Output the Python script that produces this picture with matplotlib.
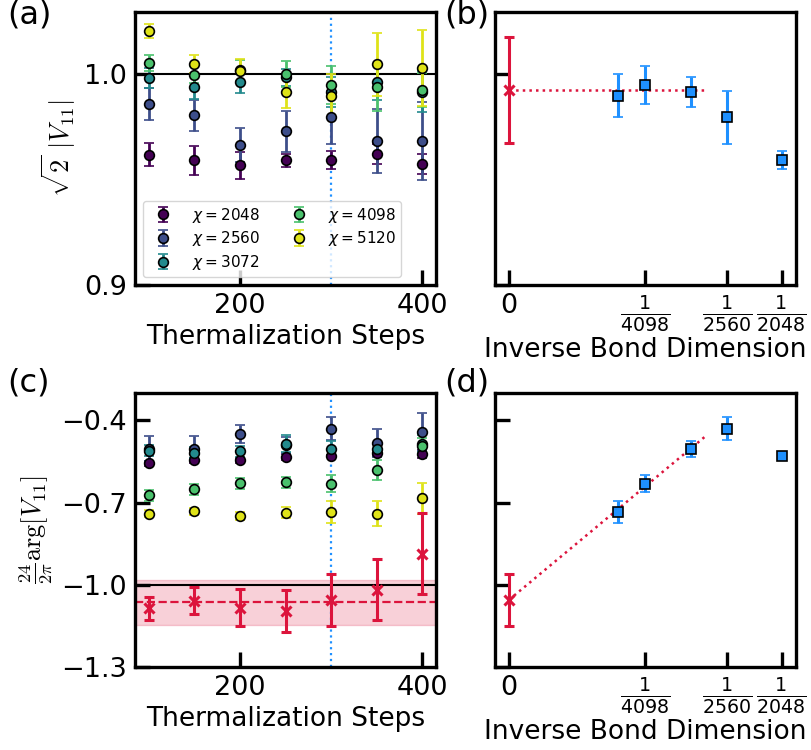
import numpy as np
import matplotlib
matplotlib.use("Agg")
import matplotlib.pyplot as plt

# ---------------- data ----------------
steps = [100, 150, 200, 250, 300, 350, 400]
chis = [2048, 2560, 3072, 4098, 5120]

abs_2048 = [0.9618, 0.9591, 0.9567, 0.9591, 0.9594, 0.9622, 0.9573]
abs_2560 = [0.9858, 0.9804, 0.9664, 0.9728, 0.9795, 0.9682, 0.9684]
abs_3072 = [0.9980, 0.9940, 0.9962, 0.9985, 0.9915, 0.9961, 0.9916]
abs_4098 = [1.0051, 0.9997, 1.0018, 1.0000, 0.9948, 0.9937, 0.9925]
abs_5120 = [1.0204, 1.0047, 1.0014, 0.9913, 0.9897, 1.0046, 1.0027]
abs_err_2048 = [0.0055, 0.0069, 0.0063, 0.0030, 0.0043, 0.0047, 0.0046]
abs_err_2560 = [0.0075, 0.0075, 0.0081, 0.0096, 0.0126, 0.0150, 0.0185]
abs_err_3072 = [0.0047, 0.0057, 0.0052, 0.0040, 0.0073, 0.0085, 0.0096]
abs_err_4098 = [0.0038, 0.0040, 0.0050, 0.0062, 0.0090, 0.0110, 0.0080]
abs_err_5120 = [0.0034, 0.0043, 0.0055, 0.0074, 0.0103, 0.0148, 0.0180]

arg_2048 = [-0.557, -0.546, -0.546, -0.534, -0.530, -0.518, -0.524]
arg_2560 = [-0.503, -0.503, -0.451, -0.490, -0.430, -0.481, -0.441]
arg_3072 = [-0.510, -0.518, -0.512, -0.485, -0.503, -0.503, -0.485]
arg_4098 = [-0.673, -0.651, -0.630, -0.625, -0.631, -0.581, -0.494]
arg_5120 = [-0.740, -0.732, -0.749, -0.737, -0.733, -0.740, -0.685]
arg_err_2048 = [0.010, 0.010, 0.010, 0.010, 0.005, 0.012, 0.015]
arg_err_2560 = [0.046, 0.046, 0.033, 0.030, 0.043, 0.051, 0.069]
arg_err_3072 = [0.020, 0.020, 0.020, 0.030, 0.029, 0.020, 0.030]
arg_err_4098 = [0.020, 0.020, 0.020, 0.020, 0.032, 0.038, 0.030]
arg_err_5120 = [0.012, 0.012, 0.015, 0.020, 0.040, 0.046, 0.058]

arg_extrap = [-1.086, -1.058, -1.083, -1.097, -1.055, -1.018, -0.886]
arg_extrap_err = [0.043, 0.050, 0.066, 0.077, 0.094, 0.111, 0.148]
arg_extrap_mean = -1.063
arg_extrap_band = 0.082

abs_extrap = 0.9924
abs_extrap_err = 0.025
arg_fit_slope = 1697.0
fit_x_end = 3.5e-4
chosen_step = 300

abs_vals = [abs_2048, abs_2560, abs_3072, abs_4098, abs_5120]
abs_errs = [abs_err_2048, abs_err_2560, abs_err_3072, abs_err_4098, abs_err_5120]
arg_vals = [arg_2048, arg_2560, arg_3072, arg_4098, arg_5120]
arg_errs = [arg_err_2048, arg_err_2560, arg_err_3072, arg_err_4098, arg_err_5120]

# ---------------- style ----------------
plt.rcParams['font.family'] = ['DejaVu Sans']
TICK_FS = 19.5
LABEL_FS = 19
SPW = 2.4
colors = [plt.cm.viridis(v) for v in np.linspace(0, 0.95, 5)]
RED = '#DC143C'
BLUE = '#1E90FF'

W, H = 811, 750
fig = plt.figure(figsize=(W / 100, H / 100), dpi=100)

def box(l, r, t, b):
    return [l / W, 1 - b / H, (r - l) / W, (b - t) / H]

axA = fig.add_axes(box(135, 436, 12, 285))
axB = fig.add_axes(box(495, 796, 12, 285))
axC = fig.add_axes(box(135, 436, 393, 667))
axD = fig.add_axes(box(495, 796, 393, 667))

for ax in (axA, axB, axC, axD):
    for s in ax.spines.values():
        s.set_linewidth(SPW)
    ax.tick_params(direction='in', length=11, width=SPW, labelsize=TICK_FS,
                   pad=6, top=False, right=False)

ekw = dict(capsize=3.4, elinewidth=2.0, capthick=2.2, markeredgecolor='k',
           markeredgewidth=1.2, ms=7.0, ls='none')
skw = dict(capsize=3.4, elinewidth=2.2, capthick=2.2, markeredgecolor='k',
           markeredgewidth=1.2, ms=6.8, ls='none')
xkw = dict(capsize=3.4, elinewidth=2.2, capthick=2.2, ms=6.5, mew=2.2, ls='none')

idx = steps.index(chosen_step)

# ---- (a) ----
axA.axhline(1.0, color='k', lw=1.5, zorder=1)
axA.axvline(chosen_step, color=BLUE, ls=':', lw=1.6, zorder=1)
for c, col, v, e in zip(chis, colors, abs_vals, abs_errs):
    axA.errorbar(steps, v, yerr=e, fmt='o', color=col, ecolor=col,
                 label=r'$\chi = %d$' % c, zorder=3, **ekw)
axA.set_xlim(85, 415)
axA.set_ylim(0.9, 1.0294)
axA.set_xticks([200, 400])
axA.set_yticks([0.9, 1.0])
axA.set_yticklabels(['0.9', '1.0'])
axA.set_xlabel('Thermalization Steps', fontsize=LABEL_FS, labelpad=3)
axA.set_ylabel(r'$\sqrt{2}\ |V_{11}|$', fontsize=LABEL_FS, math_fontfamily='cm')
axA.legend(loc='lower left', ncol=2, fontsize=11, handletextpad=0.9,
           handlelength=2.0, columnspacing=1.5, borderaxespad=0.5,
           labelspacing=0.3, borderpad=0.35)

# ---- (b) ----
invchi = [1.0 / c for c in chis]
b_vals = [v[idx] for v in abs_vals]
b_errs = [e[idx] for e in abs_errs]
axB.plot([0, fit_x_end], [abs_extrap, abs_extrap], ls=':', color=RED, lw=1.8, zorder=2)
axB.errorbar(invchi, b_vals, yerr=b_errs, fmt='s', color=BLUE, ecolor=BLUE, zorder=3, **skw)
axB.errorbar([0], [abs_extrap], yerr=[abs_extrap_err], fmt='x', color=RED, ecolor=RED,
             zorder=3, **xkw)
axB.set_xlim(-2.5e-5, 5.14e-4)
axB.set_ylim(0.9, 1.0294)
axB.set_yticks([0.9, 1.0])
axB.set_yticklabels([])

def frac_ticks(ax):
    ticks = [0, 1 / 4098, 1 / 2560, 1 / 2048]
    ax.set_xticks(ticks)
    ax.set_xticklabels(['0', r'$\frac{1}{4098}$', r'$\frac{1}{2560}$', r'$\frac{1}{2048}$'])
    ax.tick_params(axis='x', labelsize=TICK_FS)

frac_ticks(axB)
axB.set_xlabel('Inverse Bond Dimension', fontsize=LABEL_FS, labelpad=2)

# ---- (c) ----
axC.axhspan(arg_extrap_mean - arg_extrap_band, arg_extrap_mean + arg_extrap_band,
            color=RED, alpha=0.2, zorder=0)
axC.axhline(arg_extrap_mean, color=RED, ls='--', lw=1.6, zorder=1)
axC.axhline(-1.0, color='k', lw=1.5, zorder=1)
axC.axvline(chosen_step, color=BLUE, ls=':', lw=1.6, zorder=1)
for c, col, v, e in zip(chis, colors, arg_vals, arg_errs):
    axC.errorbar(steps, v, yerr=e, fmt='o', color=col, ecolor=col, zorder=3, **ekw)
axC.errorbar(steps, arg_extrap, yerr=arg_extrap_err, fmt='x', color=RED, ecolor=RED,
             zorder=3, **xkw)
axC.set_xlim(85, 415)
axC.set_ylim(-1.3, -0.3)
axC.set_xticks([200, 400])
axC.set_yticks([-1.3, -1.0, -0.7, -0.4])
axC.set_yticklabels(['\u22121.3', '\u22121.0', '\u22120.7', '\u22120.4'])
axC.set_xlabel('Thermalization Steps', fontsize=LABEL_FS, labelpad=3)
axC.set_ylabel(r'$\frac{24}{2\pi}\arg[V_{11}]$', fontsize=LABEL_FS, math_fontfamily='cm')

# ---- (d) ----
d_vals = [v[idx] for v in arg_vals]
d_errs = [e[idx] for e in arg_errs]
d0 = arg_extrap[idx]
d0e = arg_extrap_err[idx]
axD.plot([0, fit_x_end], [d0, d0 + arg_fit_slope * fit_x_end], ls=':', color=RED, lw=1.8, zorder=2)
axD.errorbar(invchi, d_vals, yerr=d_errs, fmt='s', color=BLUE, ecolor=BLUE, zorder=3, **skw)
axD.errorbar([0], [d0], yerr=[d0e], fmt='x', color=RED, ecolor=RED, zorder=3, **xkw)
axD.set_xlim(-2.5e-5, 5.14e-4)
axD.set_ylim(-1.3, -0.3)
axD.set_yticks([-1.3, -1.0, -0.7, -0.4])
axD.set_yticklabels([])
frac_ticks(axD)
axD.set_xlabel('Inverse Bond Dimension', fontsize=LABEL_FS, labelpad=2)

# panel labels
for lab, x, y in [('(a)', 7, -1), ('(b)', 444, -1), ('(c)', 7, 367), ('(d)', 444, 367)]:
    fig.text(x / W, 1 - y / H, lab, fontsize=23, ha='left', va='top')

fig.savefig('out.png', dpi=100)
